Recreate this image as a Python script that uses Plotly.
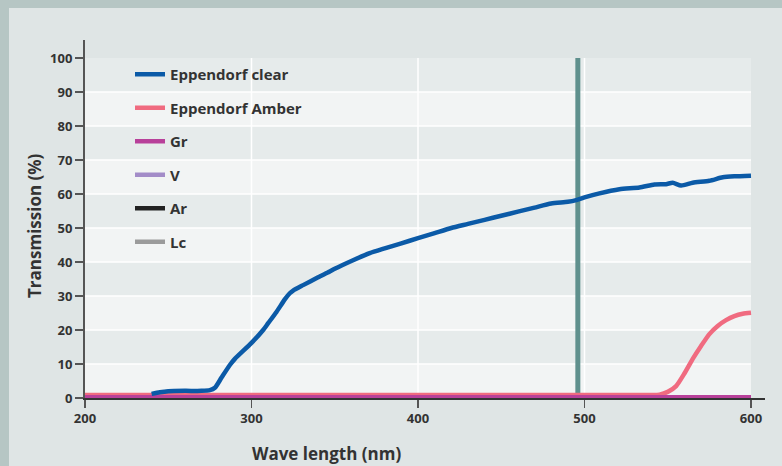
import plotly.graph_objects as go

# ---------------- data ----------------
clear_wl = [240, 245, 250, 260, 270, 275, 278, 282, 287, 290, 300, 307, 310, 315, 320, 323,
            325, 331, 340, 347, 350, 360, 371, 380, 390, 400, 410, 420, 430, 440, 450, 460,
            470, 480, 490, 495, 500, 509, 521, 533, 542, 549, 553, 558, 565, 575, 583, 590, 600]
clear_t = [1.2, 1.7, 2.0, 2.1, 2.1, 2.3, 3.0, 6.0, 9.7, 11.5, 16.2, 20.0, 22.0, 25.3, 29.0, 30.8,
           31.6, 33.2, 35.5, 37.2, 38.0, 40.3, 42.6, 44.0, 45.5, 47.0, 48.5, 50.0, 51.2, 52.4, 53.6, 54.8,
           56.0, 57.2, 57.7, 58.2, 59.0, 60.2, 61.4, 61.9, 62.8, 62.9, 63.3, 62.5, 63.3, 63.9, 64.9, 65.2, 65.4]

amber_wl = [200, 300, 400, 500, 540, 545, 550, 555, 560, 565, 570, 575, 580, 585, 590, 595, 600]
amber_t = [0.9, 0.9, 0.9, 0.9, 0.9, 1.0, 1.8, 3.5, 7.2, 11.5, 15.3, 18.8, 21.2, 22.9, 24.1, 24.8, 25.1]

flat_wl = [200, 300, 400, 500, 600]
gr_t = [0.2, 0.2, 0.2, 0.2, 0.2]
v_t = [0.15, 0.15, 0.15, 0.15, 0.15]
ar_t = [0.05, 0.05, 0.05, 0.05, 0.05]
lc_t = [0.0, 0.0, 0.0, 0.0, 0.0]

marker_wavelength = 496

x_ticks = [200, 300, 400, 500, 600]
y_ticks = [0, 10, 20, 30, 40, 50, 60, 70, 80, 90, 100]

# ---------------- styling ----------------
FONT = "Open Sans"
TXT = "#333333"
PAPER = "#dfe5e5"
BORDER = "#b6c6c4"
BAND_DARK = "#e6ebeb"
BAND_LIGHT = "#f2f4f4"

W, H = 782, 466
ML, MR, MT, MB = 85, 17, 40, 68
PW, PH = W - ML - MR, H - MT - MB

fig = go.Figure()

series = [
    ("Lc", flat_wl, lc_t, "#9b9b9b", 6),
    ("Ar", flat_wl, ar_t, "#222222", 5),
    ("V", flat_wl, v_t, "#a38cc8", 4),
    ("Eppendorf Amber", amber_wl, amber_t, "#f06b80", 2),
    ("Gr", flat_wl, gr_t, "#b8409a", 3),
    ("Eppendorf clear", clear_wl, clear_t, "#0b5aa7", 1),
]
for name, xs, ys, col, rank in series:
    fig.add_trace(go.Scatter(
        x=xs, y=ys, mode="lines", name=name,
        line=dict(color=col, width=4.5, shape="spline", smoothing=0.6),
        legendgroup=name, legendrank=rank, hoverinfo="skip",
    ))

shapes = []
# bands
for i, lo in enumerate(y_ticks[:-1]):
    shapes.append(dict(type="rect", xref="x", yref="y", x0=x_ticks[0], x1=x_ticks[-1],
                       y0=lo, y1=lo + 10, fillcolor=BAND_LIGHT if i % 2 == 0 else BAND_DARK,
                       line=dict(width=0), layer="below"))
# gridlines
for v in y_ticks[1:-1]:
    shapes.append(dict(type="line", xref="x", yref="y", x0=x_ticks[0], x1=x_ticks[-1],
                       y0=v, y1=v, line=dict(color="white", width=1.5), layer="below"))
for v in x_ticks[1:-1]:
    shapes.append(dict(type="line", xref="x", yref="y", x0=v, x1=v,
                       y0=0, y1=100, line=dict(color="white", width=1.5), layer="below"))
# marker bar
shapes.append(dict(type="line", xref="x", yref="y", x0=marker_wavelength, x1=marker_wavelength,
                   y0=0, y1=100, line=dict(color="#5f908d", width=5), layer="below"))
# outer frame strips
shapes.append(dict(type="rect", xref="paper", yref="paper",
                   x0=-ML / PW, x1=(W - ML) / PW, y0=1 + (MT - 8) / PH, y1=1 + MT / PH + 0.01,
                   fillcolor=BORDER, line=dict(width=0), layer="below"))
shapes.append(dict(type="rect", xref="paper", yref="paper",
                   x0=-ML / PW - 0.01, x1=(9 - ML) / PW, y0=-MB / PH - 0.01, y1=1 + MT / PH + 0.01,
                   fillcolor=BORDER, line=dict(width=0), layer="below"))

annotations = [
    dict(text="Wave length (nm)", xref="paper", yref="paper",
         x=(326 - ML) / PW, y=-(453 - MT - PH) / PH, xanchor="center", yanchor="middle",
         showarrow=False, font=dict(family=FONT, size=17, color=TXT, weight=700)),
    dict(text="Transmission (%)", xref="paper", yref="paper",
         x=(35 - ML) / PW, y=(MT + PH - 226) / PH, xanchor="center", yanchor="middle",
         textangle=-90, showarrow=False, font=dict(family=FONT, size=17, color=TXT, weight=700)),
]

fig.update_layout(
    width=W, height=H,
    margin=dict(l=ML, r=MR, t=MT, b=MB),
    paper_bgcolor=PAPER, plot_bgcolor=PAPER,
    shapes=shapes, annotations=annotations,
    showlegend=True,
    legend=dict(x=(130 - ML) / PW, y=(MT + PH - 58) / PH, xanchor="left", yanchor="top",
                bgcolor="rgba(0,0,0,0)", font=dict(family=FONT, size=15, color=TXT, weight=700),
                tracegroupgap=11, itemwidth=30, traceorder="grouped"),
    xaxis=dict(range=[200, 200 + PW / (666 / 400)], tickvals=x_ticks, showgrid=False, zeroline=False,
               showline=True, linecolor="#333333", linewidth=1.5,
               ticks="outside", ticklen=8, tickcolor="#555555", tickwidth=1.5,
               tickfont=dict(family=FONT, size=13, color=TXT, weight=700)),
    yaxis=dict(range=[0, PH / 3.4], tickvals=y_ticks, showgrid=False, zeroline=False,
               showline=True, linecolor="#555555", linewidth=2,
               ticks="outside", ticklen=8, tickcolor="#555555", tickwidth=1.5,
               tickfont=dict(family=FONT, size=13, color=TXT, weight=700)),
)

fig.write_html("out.html",
               config={"displayModeBar": False, "staticPlot": True},
               post_script="document.body.style.margin='0';document.body.style.padding='0';"
                           "document.body.style.overflow='hidden';")
